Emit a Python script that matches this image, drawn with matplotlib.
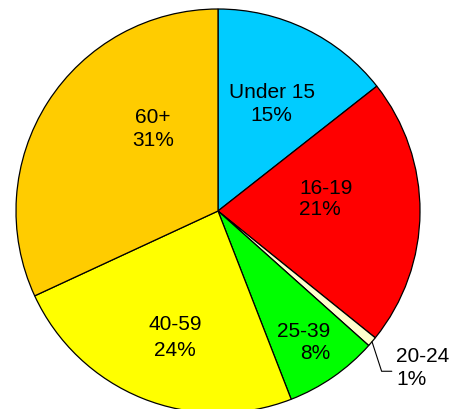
import matplotlib
matplotlib.use("Agg")
import matplotlib.pyplot as plt
import numpy as np

categories = ["Under 15", "16-19", "20-24", "25-39", "40-59", "60+"]
values = [14.4, 21.4, 0.8, 7.5, 24.0, 31.9]
pct_labels = ["15%", "21%", "1%", "8%", "24%", "31%"]
colors = ["#00CCFF", "#FF0000", "#FFFFCC", "#00FF00", "#FFFF00", "#FFCC00"]

# label layout (axes data units, pie radius = 1); None -> outside with leader
label_pos = [(0.265, 0.530), (0.535, 0.060), None, (0.423, -0.650),
             (-0.213, -0.626), (-0.322, 0.406)]
label_align = ["center", "left", "left", "right", "center", "center"]
line_spacing = [1.22, 1.17, 1.22, 1.22, 1.43, 1.28]
FS = 15

plt.rcParams['font.family'] = ['Liberation Sans', 'DejaVu Sans']

fig = plt.figure(figsize=(4.61, 4.09), dpi=100)
ax = fig.add_axes([0, 0, 1, 1])
wedges, _ = ax.pie(values, colors=colors, startangle=90, counterclock=False,
                   radius=1.0, center=(0, 0),
                   wedgeprops=dict(edgecolor="black", linewidth=0.9))
for w, cat, pl, pos, al, ls in zip(wedges, categories, pct_labels,
                                   label_pos, label_align, line_spacing):
    txt = f"{cat}\n{pl}"
    if pos is not None:
        ax.text(pos[0], pos[1], txt, ha="center", va="center",
                multialignment=al, fontsize=FS, linespacing=ls)
    else:
        ang = np.deg2rad((w.theta1 + w.theta2) / 2)
        ex, ey = np.cos(ang), np.sin(ang)
        ax.annotate(txt, xy=(ex, ey), xytext=(0.881, -0.777),
                    ha="left", va="center", multialignment=al,
                    fontsize=FS, linespacing=ls,
                    arrowprops=dict(arrowstyle="-", color="black", lw=0.8,
                                    connectionstyle="angle,angleA=0,angleB=108,rad=0",
                                    shrinkA=1, shrinkB=0,
                                    relpos=(0, 0.42)))

ax.set_xlim(-218 / 202, (461 - 218) / 202)
ax.set_ylim(-(409 - 211) / 202, 211 / 202)
ax.set_aspect("equal")
ax.axis("off")
fig.savefig("out.png", dpi=100)
